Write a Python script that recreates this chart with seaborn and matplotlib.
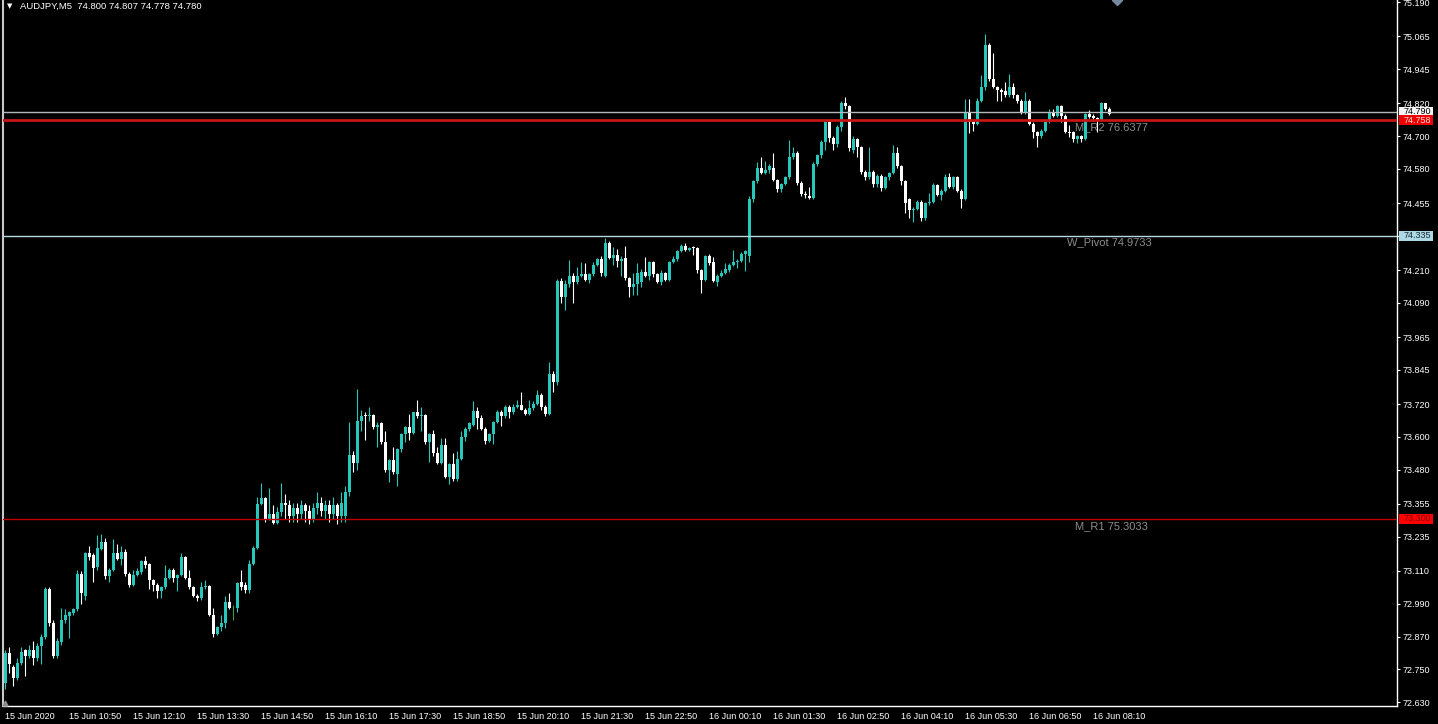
import numpy as np
import matplotlib
matplotlib.use("Agg")
import matplotlib.pyplot as plt
import seaborn as sns
from matplotlib.patches import Rectangle

# -------------------- DATA (AUDJPY M5) --------------------
opens = [
    72.70, 72.81, 72.76, 72.72, 72.775, 72.82, 72.80, 72.82, 72.79, 72.835,
    72.87, 73.045, 72.92, 72.80, 72.85, 72.93, 72.945, 72.955, 72.97, 73.10,
    73.02, 73.175, 73.17, 73.125, 73.19, 73.215, 73.09, 73.115, 73.175, 73.155,
    73.18, 73.10, 73.06, 73.095, 73.105, 73.145, 73.135, 73.075, 73.06, 73.035,
    73.05, 73.085, 73.115, 73.085, 73.095, 73.16, 73.085, 73.05, 73.02, 73.01,
    73.05, 73.055, 72.95, 72.88, 72.905, 72.92, 72.995, 72.98, 72.975, 73.07,
    73.06, 73.04, 73.135, 73.195, 73.355, 73.375, 73.30, 73.32, 73.285, 73.325,
    73.36, 73.35, 73.31, 73.34, 73.32, 73.35, 73.33, 73.30, 73.34, 73.36,
    73.33, 73.35, 73.32, 73.35, 73.31, 73.31, 73.40, 73.535, 73.505, 73.66,
    73.68, 73.675, 73.68, 73.635, 73.65, 73.58, 73.48, 73.515, 73.465, 73.555,
    73.61, 73.635, 73.615, 73.69, 73.675, 73.68, 73.58, 73.61, 73.54, 73.505,
    73.57, 73.455, 73.50, 73.445, 73.52, 73.60, 73.63, 73.645, 73.695, 73.67,
    73.63, 73.585, 73.61, 73.655, 73.69, 73.675, 73.71, 73.69, 73.71, 73.715,
    73.70, 73.685, 73.705, 73.72, 73.755, 73.71, 73.685, 73.83, 73.80, 74.17,
    74.11, 74.16, 74.19, 74.165, 74.19, 74.195, 74.175, 74.195, 74.23, 74.25,
    74.19, 74.31, 74.255, 74.265, 74.245, 74.255, 74.18, 74.15, 74.16, 74.165,
    74.205, 74.19, 74.24, 74.195, 74.165, 74.20, 74.175, 74.24, 74.25, 74.28,
    74.30, 74.285, 74.295, 74.29, 74.21, 74.175, 74.26, 74.24, 74.165, 74.19,
    74.20, 74.21, 74.23, 74.24, 74.245, 74.27, 74.26, 74.47, 74.535, 74.585,
    74.565, 74.575, 74.585, 74.54, 74.505, 74.525, 74.55, 74.625, 74.64, 74.53,
    74.49, 74.48, 74.475, 74.60, 74.63, 74.68, 74.75, 74.695, 74.67, 74.735,
    74.82, 74.81, 74.65, 74.69, 74.66, 74.57, 74.55, 74.57, 74.525, 74.555,
    74.51, 74.55, 74.565, 74.64, 74.59, 74.535, 74.47, 74.43, 74.435, 74.46,
    74.40, 74.455, 74.46, 74.52, 74.485, 74.50, 74.55, 74.515, 74.55, 74.50,
    74.47, 74.785, 74.75, 74.745, 74.83, 74.88, 75.035, 74.91, 74.88, 74.87,
    74.865, 74.85, 74.88, 74.85, 74.83, 74.785, 74.83, 74.745, 74.715, 74.70,
    74.72, 74.76, 74.79, 74.775, 74.81, 74.775, 74.715, 74.715, 74.69, 74.70,
    74.69, 74.78, 74.775, 74.765, 74.76, 74.82, 74.80,
]
highs = [
    72.82, 72.83, 72.765, 72.79, 72.83, 72.825, 72.84, 72.855, 72.845, 72.88,
    73.05, 73.05, 72.93, 72.865, 72.975, 72.97, 72.965, 72.975, 73.115, 73.11,
    73.18, 73.20, 73.175, 73.24, 73.245, 73.23, 73.12, 73.225, 73.21, 73.20,
    73.19, 73.105, 73.115, 73.12, 73.15, 73.165, 73.14, 73.08, 73.065, 73.055,
    73.13, 73.12, 73.12, 73.10, 73.175, 73.165, 73.115, 73.055, 73.025, 73.07,
    73.075, 73.06, 72.975, 72.91, 72.95, 73.02, 73.03, 72.985, 73.07, 73.115,
    73.07, 73.15, 73.20, 73.38, 73.43, 73.38, 73.415, 73.35, 73.345, 73.43,
    73.39, 73.37, 73.36, 73.36, 73.37, 73.36, 73.35, 73.36, 73.40, 73.38,
    73.37, 73.37, 73.38, 73.36, 73.40, 73.42, 73.655, 73.55, 73.775, 73.70,
    73.69, 73.71, 73.685, 73.655, 73.655, 73.62, 73.52, 73.565, 73.56, 73.615,
    73.64, 73.685, 73.69, 73.735, 73.71, 73.685, 73.615, 73.625, 73.565, 73.595,
    73.595, 73.505, 73.54, 73.55, 73.62, 73.635, 73.655, 73.73, 73.71, 73.68,
    73.635, 73.615, 73.66, 73.70, 73.70, 73.715, 73.715, 73.72, 73.735, 73.765,
    73.705, 73.735, 73.73, 73.77, 73.76, 73.715, 73.875, 73.84, 74.178, 74.18,
    74.175, 74.247, 74.20, 74.223, 74.241, 74.235, 74.20, 74.24, 74.255, 74.26,
    74.327, 74.315, 74.294, 74.286, 74.26, 74.298, 74.185, 74.199, 74.237, 74.215,
    74.259, 74.245, 74.245, 74.20, 74.21, 74.205, 74.245, 74.26, 74.285, 74.306,
    74.308, 74.295, 74.30, 74.295, 74.215, 74.265, 74.27, 74.257, 74.195, 74.21,
    74.237, 74.237, 74.284, 74.25, 74.275, 74.285, 74.48, 74.54, 74.607, 74.625,
    74.61, 74.60, 74.637, 74.545, 74.53, 74.555, 74.686, 74.662, 74.645, 74.535,
    74.50, 74.515, 74.605, 74.635, 74.685, 74.76, 74.757, 74.70, 74.74, 74.83,
    74.845, 74.815, 74.70, 74.695, 74.665, 74.575, 74.659, 74.575, 74.56, 74.56,
    74.555, 74.57, 74.668, 74.662, 74.595, 74.54, 74.475, 74.44, 74.465, 74.465,
    74.46, 74.493, 74.53, 74.525, 74.505, 74.56, 74.564, 74.555, 74.555, 74.505,
    74.835, 74.835, 74.755, 74.84, 74.924, 75.074, 75.04, 75.005, 74.885, 74.875,
    74.899, 74.928, 74.894, 74.855, 74.835, 74.863, 74.835, 74.75, 74.72, 74.725,
    74.755, 74.80, 74.80, 74.815, 74.815, 74.78, 74.741, 74.72, 74.705, 74.705,
    74.785, 74.796, 74.78, 74.769, 74.825, 74.823, 74.807,
]
lows = [
    72.68, 72.735, 72.69, 72.71, 72.765, 72.725, 72.79, 72.765, 72.78, 72.77,
    72.86, 72.91, 72.79, 72.79, 72.84, 72.92, 72.865, 72.95, 72.965, 72.99,
    73.005, 73.15, 73.07, 73.115, 73.185, 73.08, 73.07, 73.11, 73.15, 73.13,
    73.09, 73.05, 73.055, 73.09, 73.10, 73.12, 73.045, 73.035, 73.01, 73.01,
    73.045, 73.08, 73.07, 73.035, 73.09, 73.08, 73.045, 73.015, 73.00, 73.005,
    73.045, 72.945, 72.87, 72.875, 72.89, 72.90, 72.97, 72.93, 72.96, 73.04,
    73.03, 73.03, 73.13, 73.19, 73.35, 73.29, 73.295, 73.28, 73.28, 73.31,
    73.30, 73.29, 73.29, 73.29, 73.30, 73.29, 73.28, 73.29, 73.32, 73.31,
    73.30, 73.29, 73.30, 73.28, 73.29, 73.29, 73.385, 73.47, 73.48, 73.62,
    73.59, 73.66, 73.63, 73.565, 73.575, 73.47, 73.435, 73.465, 73.42, 73.545,
    73.58, 73.59, 73.61, 73.67, 73.62, 73.575, 73.51, 73.53, 73.50, 73.50,
    73.45, 73.428, 73.44, 73.44, 73.515, 73.585, 73.62, 73.64, 73.63, 73.625,
    73.575, 73.58, 73.575, 73.65, 73.64, 73.67, 73.67, 73.685, 73.705, 73.70,
    73.68, 73.68, 73.70, 73.715, 73.70, 73.675, 73.68, 73.765, 73.79, 74.09,
    74.064, 74.15, 74.09, 74.16, 74.185, 74.17, 74.162, 74.19, 74.225, 74.19,
    74.185, 74.25, 74.229, 74.22, 74.19, 74.175, 74.111, 74.119, 74.119, 74.15,
    74.185, 74.175, 74.185, 74.162, 74.155, 74.17, 74.17, 74.235, 74.245, 74.275,
    74.28, 74.28, 74.265, 74.20, 74.127, 74.17, 74.23, 74.165, 74.152, 74.185,
    74.195, 74.205, 74.225, 74.217, 74.24, 74.208, 74.24, 74.46, 74.53, 74.56,
    74.56, 74.565, 74.535, 74.495, 74.495, 74.52, 74.545, 74.615, 74.52, 74.48,
    74.475, 74.47, 74.47, 74.59, 74.62, 74.65, 74.68, 74.65, 74.66, 74.72,
    74.80, 74.645, 74.64, 74.625, 74.56, 74.54, 74.545, 74.515, 74.515, 74.50,
    74.505, 74.54, 74.56, 74.585, 74.52, 74.42, 74.40, 74.387, 74.43, 74.39,
    74.395, 74.45, 74.455, 74.48, 74.465, 74.495, 74.51, 74.505, 74.495, 74.436,
    74.465, 74.713, 74.72, 74.74, 74.825, 74.87, 74.90, 74.875, 74.83, 74.83,
    74.845, 74.845, 74.84, 74.82, 74.78, 74.78, 74.74, 74.692, 74.659, 74.695,
    74.715, 74.747, 74.77, 74.77, 74.753, 74.71, 74.698, 74.68, 74.674, 74.68,
    74.685, 74.765, 74.755, 74.716, 74.755, 74.795, 74.778,
]
closes = [
    72.81, 72.77, 72.72, 72.775, 72.815, 72.80, 72.82, 72.79, 72.835, 72.87,
    73.045, 72.92, 72.80, 72.855, 72.93, 72.95, 72.96, 72.97, 73.10, 73.03,
    73.175, 73.16, 73.12, 73.195, 73.215, 73.09, 73.115, 73.175, 73.155, 73.18,
    73.10, 73.06, 73.095, 73.11, 73.145, 73.13, 73.075, 73.06, 73.035, 73.05,
    73.085, 73.115, 73.085, 73.095, 73.16, 73.085, 73.05, 73.02, 73.01, 73.05,
    73.055, 72.95, 72.88, 72.905, 72.92, 72.995, 72.975, 72.98, 73.065, 73.05,
    73.04, 73.135, 73.195, 73.355, 73.375, 73.30, 73.32, 73.285, 73.325, 73.36,
    73.35, 73.31, 73.34, 73.32, 73.35, 73.33, 73.30, 73.34, 73.36, 73.33,
    73.35, 73.32, 73.35, 73.31, 73.36, 73.40, 73.535, 73.505, 73.66, 73.675,
    73.675, 73.68, 73.635, 73.645, 73.58, 73.48, 73.515, 73.47, 73.555, 73.61,
    73.635, 73.615, 73.69, 73.675, 73.68, 73.58, 73.61, 73.54, 73.505, 73.57,
    73.455, 73.50, 73.445, 73.52, 73.60, 73.63, 73.65, 73.695, 73.67, 73.63,
    73.585, 73.61, 73.655, 73.69, 73.675, 73.71, 73.69, 73.71, 73.715, 73.70,
    73.685, 73.705, 73.72, 73.755, 73.71, 73.685, 73.83, 73.80, 74.17, 74.11,
    74.16, 74.19, 74.165, 74.19, 74.195, 74.175, 74.195, 74.23, 74.25, 74.20,
    74.31, 74.255, 74.265, 74.245, 74.25, 74.18, 74.15, 74.16, 74.20, 74.205,
    74.19, 74.24, 74.195, 74.165, 74.20, 74.175, 74.24, 74.25, 74.28, 74.30,
    74.285, 74.29, 74.29, 74.21, 74.175, 74.26, 74.235, 74.17, 74.19, 74.20,
    74.215, 74.23, 74.24, 74.245, 74.27, 74.28, 74.47, 74.535, 74.585, 74.565,
    74.575, 74.59, 74.54, 74.505, 74.525, 74.55, 74.625, 74.64, 74.53, 74.49,
    74.485, 74.475, 74.60, 74.63, 74.68, 74.75, 74.695, 74.67, 74.735, 74.82,
    74.81, 74.655, 74.69, 74.66, 74.57, 74.55, 74.57, 74.525, 74.555, 74.51,
    74.55, 74.565, 74.64, 74.59, 74.535, 74.455, 74.43, 74.435, 74.46, 74.40,
    74.455, 74.46, 74.52, 74.485, 74.50, 74.55, 74.515, 74.55, 74.50, 74.47,
    74.785, 74.75, 74.745, 74.83, 74.88, 75.035, 74.91, 74.88, 74.87, 74.86,
    74.85, 74.88, 74.85, 74.83, 74.785, 74.83, 74.745, 74.715, 74.70, 74.72,
    74.75, 74.79, 74.775, 74.81, 74.775, 74.715, 74.71, 74.69, 74.70, 74.69,
    74.78, 74.77, 74.765, 74.76, 74.82, 74.80, 74.78,
]

time_labels = [
    "15 Jun 2020", "15 Jun 10:50", "15 Jun 12:10", "15 Jun 13:30", "15 Jun 14:50",
    "15 Jun 16:10", "15 Jun 17:30", "15 Jun 18:50", "15 Jun 20:10", "15 Jun 21:30",
    "15 Jun 22:50", "16 Jun 00:10", "16 Jun 01:30", "16 Jun 02:50", "16 Jun 04:10",
    "16 Jun 05:30", "16 Jun 06:50", "16 Jun 08:10",
]
price_ticks = [75.190, 75.065, 74.945, 74.820, 74.700, 74.580, 74.455, 74.335,
               74.210, 74.090, 73.965, 73.845, 73.720, 73.600, 73.480, 73.355,
               73.235, 73.110, 72.990, 72.870, 72.750, 72.630]

# horizontal levels: (price, line colour, line width, box colour, box text colour)
levels = [
    (74.790, "#b4b8bc", 1.0, "#f4f4f4", "#000000"),
    (74.758, "#c81414", 2.0, "#f00000", "#ffd8d8"),
    (74.335, "#b8d8e4", 1.0, "#add8e6", "#1a2a30"),
    (73.300, "#c00000", 1.0, "#ff0000", "#8c0000"),
]
level_names = ["M_R2 76.6377", "W_Pivot 74.9733", "M_R1 75.3033"]
level_name_pos = [(267.5, 74.734), (265.5, 74.313), (267.5, 73.274)]

symbol_title = "AUDJPY,M5  74.800 74.807 74.778 74.780"

UP_COL = "#27c8bc"
DOWN_COL = "#ffffff"
DOJI_COL = "#3c9a3c"

# -------------------- STYLE --------------------
sns.set_style("dark", {"axes.facecolor": "black", "figure.facecolor": "black"})
plt.rcParams["font.family"] = ["Liberation Sans", "DejaVu Sans"]

W, H = 1438, 724
fig = plt.figure(figsize=(W / 100, H / 100), dpi=100, facecolor="black")
ax = fig.add_axes([3 / W, 18 / H, 1394 / W, 706 / H])
ax.set_facecolor("black")

o = np.array(opens)
h = np.array(highs)
l = np.array(lows)
c = np.array(closes)
x = np.arange(len(o))

cols = np.where(c > o, UP_COL, np.where(c < o, DOWN_COL, DOJI_COL))

# -------------------- CANDLES --------------------
ax.vlines(x, l, h, colors=cols, linewidth=0.8, zorder=3)
body_lo = np.minimum(o, c)
body_h = np.maximum(np.abs(c - o), 0.0035)
ax.bar(x, body_h, bottom=body_lo, width=0.75, color=cols, linewidth=0,
       zorder=4, antialiased=False)

ax.set_xlim(-0.5, 348)
ax.set_ylim(72.616, 75.198)

# -------------------- LEVEL LINES + PRICE BOXES --------------------
ytr = ax.get_yaxis_transform()
for price, lc, lw, bc, tc in levels:
    ax.axhline(price, color=lc, linewidth=lw, zorder=5)
for price, lc, lw, bc, tc in levels:
    ax.add_patch(Rectangle((1.0014, price - 0.0185), 0.0244, 0.037,
                           transform=ytr, facecolor=bc, edgecolor="none",
                           clip_on=False, zorder=6))
    ax.text(1.0045, price, f"{price:.3f}", transform=ytr, ha="left",
            va="center", fontsize=6.5, color=tc, clip_on=False, zorder=7)

for name, (nx, ny) in zip(level_names, level_name_pos):
    ax.text(nx, ny, name, color="#8c8c8c", fontsize=8, ha="left",
            va="center", zorder=2)

# -------------------- AXES --------------------
ax.yaxis.tick_right()
ax.set_yticks(price_ticks)
ax.set_yticklabels([f"{p:.3f}" for p in price_ticks])
ax.set_xticks(np.arange(len(time_labels)) * 16)
ax.set_xticklabels(time_labels)
for lab in ax.get_xticklabels():
    lab.set_ha("left")
ax.tick_params(axis="y", direction="out", length=2.5, width=0.8,
               colors="white", labelsize=6.5, pad=1.5)
ax.tick_params(axis="x", direction="out", length=2.5, width=0.8,
               colors="white", labelsize=6.5, pad=2)
ax.grid(False)
for side in ["right", "bottom"]:
    ax.spines[side].set_color("white")
    ax.spines[side].set_linewidth(1.0)
ax.spines["left"].set_color("#c8c8c8")
ax.spines["left"].set_linewidth(1.5)
ax.spines["top"].set_visible(False)

# chart-shift marker at top and scroll marker bottom-left
ax.plot([278], [75.198], marker="D", markersize=5, color="#7888a0",
        clip_on=False, zorder=8)
ax.plot([-0.1], [72.628], marker="^", markersize=3.5, color="#8a8a8a",
        clip_on=False, zorder=8)

# -------------------- TITLE --------------------
fig.text(7 / W, 1 - 6 / H, "\u25bc", color="white", fontsize=5,
         family="DejaVu Sans", va="center", ha="left")
fig.text(20 / W, 1 - 6 / H, symbol_title, color="white", fontsize=6.8,
         va="center", ha="left")

fig.savefig("out.png", dpi=100, facecolor="black")
